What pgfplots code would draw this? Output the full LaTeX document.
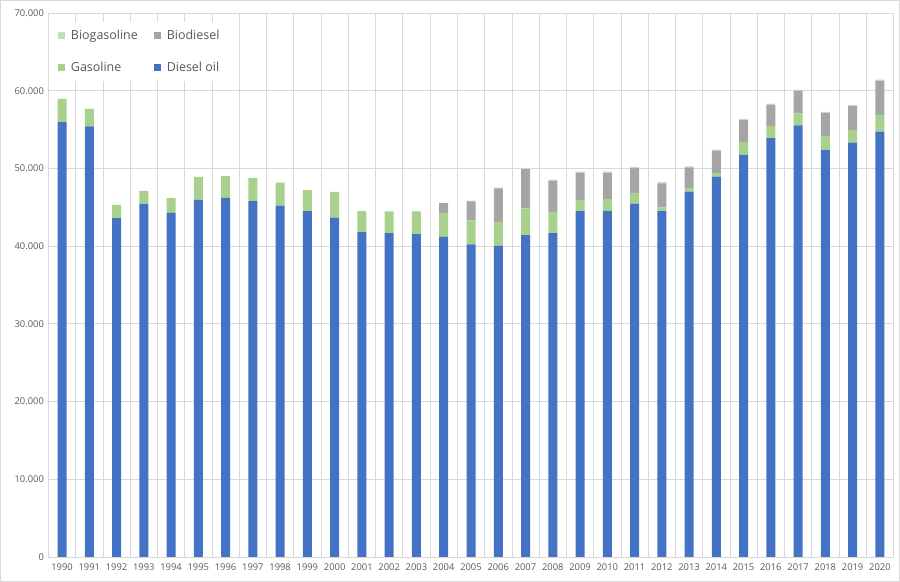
\documentclass[border=0pt]{standalone}
\usepackage{pgfplots}
\usepackage{pgfplotstable}
\pgfplotsset{compat=1.18}
\usepackage{fontspec}
\setmainfont{Open Sans}
\definecolor{diesel}{RGB}{68,114,196}
\definecolor{gasol}{RGB}{169,209,142}
\definecolor{biod}{RGB}{165,165,165}
\definecolor{biog}{RGB}{197,224,180}
\definecolor{gridc}{RGB}{217,217,217}
\definecolor{txt}{RGB}{89,89,89}
\pgfplotstableread{
year diesel gasoline biodiesel biogasoline
1990 55950 3000 0 0
1991 55400 2250 0 0
1992 43600 1720 0 0
1993 45450 1650 0 0
1994 44270 1900 0 0
1995 45950 2950 0 0
1996 46200 2800 0 0
1997 45800 2970 0 0
1998 45220 2950 0 0
1999 44500 2720 0 0
2000 43680 3290 0 0
2001 41800 2700 0 0
2002 41690 2800 0 0
2003 41560 2920 0 0
2004 41200 3070 1300 0
2005 40240 3090 2420 100
2006 40020 3080 4330 100
2007 41430 3430 5050 150
2008 41690 2700 4020 150
2009 44520 1420 3500 150
2010 44520 1550 3370 150
2011 45460 1380 3200 150
2012 44520 480 3080 150
2013 47010 470 2650 150
2014 48940 470 2860 150
2015 51730 1670 2820 150
2016 53910 1550 2730 150
2017 55550 1550 2890 150
2018 52370 1710 3040 150
2019 53310 1640 3070 150
2020 54730 2150 4400 150
}\datatable
\begin{document}
\begin{tikzpicture}
\path[use as bounding box] (0bp,0bp) rectangle (900bp,582bp);
\draw[gridc] (0.5bp,0.5bp) rectangle (899.5bp,581.5bp);
\begin{axis}[
  at={(48.4bp,25bp)}, anchor=south west,
  scale only axis, width=845.2bp, height=544bp,
  ybar stacked, bar width=9bp,
  xmin=1989.5, xmax=2020.5, ymin=0, ymax=70000,
  xtick={1990,...,2020},
  minor xtick={1989.5,1990.5,...,2020.5},
  ytick distance=10000,
  scaled y ticks=false,
  xminorgrids=true, ymajorgrids=true, xmajorgrids=false,
  major grid style={gridc, line width=0.8bp},
  minor grid style={gridc, line width=0.8bp},
  axis x line=bottom, axis y line=left,
  axis line style={-},
  x axis line style={gridc, line width=0.8bp},
  y axis line style={draw=none},
  major tick length=0pt, minor tick length=0pt,
  /pgf/number format/assume math mode=true,
  tick label style={font=\fontsize{9.4}{11}\selectfont, text=txt},
  yticklabel style={xshift=-1bp},
  y tick label style={/pgf/number format/1000 sep={.}},
  xticklabel style={yshift=-3bp},
  x tick label style={/pgf/number format/1000 sep={}},
  reverse legend,
  legend columns=2,
  legend cell align=left,
  legend style={at={(0.004,0.983)}, anchor=north west, draw=none, fill=white,
    font=\fontsize{12.5}{15}\selectfont, text=txt,
    row sep=17bp, inner xsep=6bp, inner ysep=6bp,
    /tikz/every odd column/.append style={column sep=4bp},
    /tikz/every even column/.append style={column sep=14bp}},
  legend image code/.code={\path[#1] (0bp,-3.5bp) rectangle (7bp,3.5bp);},
]
\addplot[fill=diesel, draw=none] table[x=year, y=diesel] {\datatable};
\addplot[fill=gasol, draw=none] table[x=year, y=gasoline] {\datatable};
\addplot[fill=biod, draw=none] table[x=year, y=biodiesel] {\datatable};
\addplot[fill=biog, draw=none] table[x=year, y=biogasoline] {\datatable};
\legend{Diesel oil, Gasoline, Biodiesel, Biogasoline}
\end{axis}
\end{tikzpicture}
\end{document}
